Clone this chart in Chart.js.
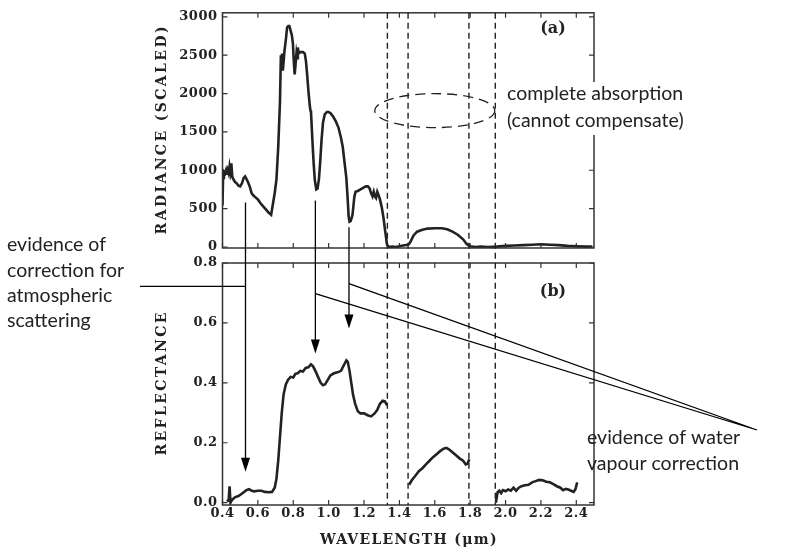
<!DOCTYPE html>
<html><head><meta charset="utf-8">
<script src="https://cdn.jsdelivr.net/npm/chart.js@4/dist/chart.umd.min.js"></script>
<style>
html,body{margin:0;padding:0;background:#fff;}
#wrap{position:relative;width:791px;height:551px;background:#fff;}
canvas{position:absolute;left:0;top:0;}
</style></head><body>
<div id="wrap"><canvas id="ca" width="791" height="551"></canvas><canvas id="cb" width="791" height="551"></canvas></div>
<script>
// ---------- data ----------
const wavelengthTicks = [0.4,0.6,0.8,1.0,1.2,1.4,1.6,1.8,2.0,2.2,2.4];
const radianceTicks = [0,500,1000,1500,2000,2500,3000];
const reflectanceTicks = [0,0.2,0.4,0.6,0.8];

const radianceWl = [0.400,0.403,0.408,0.415,0.420,0.425,0.430,0.435,0.440,0.445,0.450,0.455,0.462,0.470,0.480,0.490,0.500,0.510,0.520,0.528,0.535,0.545,0.555,0.565,0.575,0.590,0.600,0.615,0.630,0.645,0.660,0.675,0.685,0.695,0.705,0.715,0.725,0.730,0.733,0.737,0.741,0.745,0.750,0.758,0.765,0.772,0.778,0.785,0.792,0.798,0.803,0.808,0.813,0.818,0.822,0.826,0.830,0.838,0.845,0.855,0.865,0.872,0.878,0.885,0.893,0.897,0.900,0.902,0.908,0.915,0.922,0.930,0.937,0.945,0.952,0.960,0.968,0.978,0.990,1.000,1.012,1.025,1.040,1.055,1.070,1.080,1.090,1.100,1.107,1.113,1.118,1.125,1.135,1.145,1.152,1.165,1.180,1.195,1.210,1.222,1.232,1.240,1.248,1.255,1.262,1.268,1.275,1.282,1.290,1.300,1.310,1.320,1.330,1.340,1.360,1.380,1.400,1.420,1.440,1.455,1.465,1.480,1.500,1.530,1.560,1.600,1.640,1.670,1.700,1.730,1.760,1.780,1.800,1.830,1.860,1.900,1.950,2.000,2.050,2.100,2.150,2.200,2.250,2.300,2.350,2.400,2.450,2.490];
const radianceVal = [540,900,980,960,1000,940,1000,960,1050,980,1090,920,880,850,830,800,790,830,900,920,890,840,780,700,670,640,620,570,530,490,450,420,560,700,880,1300,1900,2500,2350,2520,2300,2400,2550,2700,2860,2880,2880,2820,2760,2650,2420,2250,2380,2520,2460,2600,2520,2540,2540,2540,2520,2420,2260,2050,1850,1780,1760,1680,1400,1100,870,750,760,880,1100,1400,1620,1730,1760,1760,1740,1700,1640,1560,1420,1300,1100,900,650,400,330,340,420,650,720,730,750,770,790,790,760,700,660,720,660,640,720,680,620,520,380,200,30,0,5,0,10,20,25,40,80,150,200,225,240,245,245,230,200,160,100,40,10,0,5,0,5,15,20,25,30,35,30,25,15,10,5,5];

const reflectanceWl = [0.425,0.435,0.440,0.445,0.455,0.470,0.490,0.505,0.520,0.535,0.550,0.565,0.580,0.600,0.620,0.640,0.660,0.680,0.695,0.705,0.715,0.725,0.735,0.745,0.758,0.770,0.785,0.800,0.812,0.825,0.840,0.855,0.870,0.885,0.900,0.912,0.925,0.940,0.955,0.968,0.980,0.995,1.010,1.030,1.050,1.070,1.085,1.100,1.108,1.118,1.128,1.138,1.150,1.165,1.180,1.200,1.220,1.240,1.260,1.275,1.290,1.305,1.318,1.330,
  1.390,
  1.455,1.470,1.490,1.510,1.530,1.550,1.570,1.590,1.610,1.630,1.650,1.665,1.680,1.700,1.720,1.740,1.760,1.775,1.785,1.795,
  1.870,
  1.945,1.955,1.965,1.975,1.985,2.000,2.015,2.030,2.045,2.060,2.075,2.090,2.110,2.130,2.150,2.170,2.190,2.210,2.230,2.250,2.270,2.290,2.310,2.325,2.340,2.355,2.370,2.385,2.395,2.405];
const reflectanceVal = [0.005,0.010,0.055,0.000,0.010,0.018,0.022,0.028,0.035,0.042,0.045,0.040,0.038,0.040,0.040,0.036,0.035,0.036,0.050,0.080,0.140,0.220,0.300,0.360,0.395,0.410,0.420,0.418,0.430,0.432,0.440,0.438,0.450,0.452,0.462,0.455,0.440,0.420,0.400,0.392,0.395,0.410,0.425,0.432,0.435,0.440,0.458,0.475,0.470,0.440,0.400,0.360,0.330,0.305,0.298,0.298,0.292,0.288,0.298,0.310,0.330,0.340,0.338,0.325,
  null,
  0.060,0.075,0.090,0.105,0.115,0.128,0.140,0.152,0.162,0.172,0.180,0.183,0.178,0.168,0.158,0.148,0.140,0.128,0.130,0.145,
  null,
  0.000,0.035,0.040,0.032,0.042,0.038,0.044,0.040,0.050,0.040,0.050,0.055,0.058,0.060,0.068,0.072,0.076,0.075,0.070,0.068,0.062,0.055,0.050,0.042,0.046,0.044,0.040,0.036,0.045,0.068];

const absorptionBandEdges = [1.332, 1.449, 1.793, 1.942];
// arrows: wavelength, start radiance (panel a), end reflectance (panel b)
const arrowWl = [0.53, 0.925, 1.115];
const arrowFromRadiance = [580, 605, 258];
const arrowToReflectance = [0.103, 0.498, 0.581];

// ---------- helpers ----------
const INK = '#222';
const tickFont = {family:'DejaVu Serif', weight:'bold', size:13};
const LEFT_W = 222.5;
function setTicks(list){ return s => { s.ticks = list.map(v => ({value:v})); }; }
function yScale(min, max, list, fmt){
  return {type:'linear', min, max, afterBuildTicks: setTicks(list), afterFit: s => { s.width = LEFT_W; },
    grid:{display:false, drawTicks:false}, border:{display:false},
    ticks:{font:tickFont, color:INK, padding:5, autoSkip:false, callback: fmt}};
}
function xScale(showLabels){
  return {type:'linear', min:0.4, max:2.5, afterBuildTicks: setTicks(wavelengthTicks),
    afterFit: s => { s.height = showLabels ? 46 : 0; },
    grid:{display:false, drawTicks:false}, border:{display:false},
    ticks:{display:showLabels, font:tickFont, color:INK, padding:0.5, autoSkip:false, maxRotation:0, callback: v => v.toFixed(1)}};
}
const spacingPlugin = { id:'spacing', beforeDraw(chart){ chart.ctx.letterSpacing = '0.5px'; } };
const framePlugin = {
  id:'frame',
  afterDatasetsDraw(chart){
    const {ctx, chartArea:a, scales:{x, y}} = chart;
    ctx.save();
    ctx.strokeStyle = '#333'; ctx.lineWidth = 1.5;
    ctx.strokeRect(a.left, a.top, a.right - a.left, a.bottom - a.top);
    ctx.lineWidth = 1.2; ctx.beginPath();
    for (const t of x.ticks){ const p = x.getPixelForValue(t.value); ctx.moveTo(p, a.bottom); ctx.lineTo(p, a.bottom - 5); ctx.moveTo(p, a.top); ctx.lineTo(p, a.top + 5); }
    for (const t of y.ticks){ const p = y.getPixelForValue(t.value); ctx.moveTo(a.left, p); ctx.lineTo(a.left + 5, p); ctx.moveTo(a.right, p); ctx.lineTo(a.right - 5, p); }
    ctx.stroke(); ctx.restore();
  }
};
function spacedText(ctx, text, x, y, font, spacing, rot, align){
  ctx.save();
  ctx.translate(x, y); if (rot) ctx.rotate(rot);
  ctx.font = font; ctx.letterSpacing = spacing + 'px';
  ctx.textAlign = align || 'center'; ctx.textBaseline = 'middle'; ctx.fillStyle = INK;
  ctx.fillText(text, align === 'left' ? 0 : spacing / 2, 0);
  ctx.restore();
}
function arrowHead(ctx, x, y){
  ctx.beginPath(); ctx.moveTo(x, y); ctx.lineTo(x - 4.5, y - 14); ctx.lineTo(x + 4.5, y - 14); ctx.closePath(); ctx.fill();
}

const chartA = new Chart(document.getElementById('ca'), {
  type:'line',
  data:{datasets:[{data: radianceWl.map((w,i) => ({x:w, y:radianceVal[i]})), borderColor:INK, borderWidth:2.6, pointRadius:0, tension:0}]},
  options:{responsive:false, animation:false, devicePixelRatio:1,
    layout:{padding:{top:10, right:197, bottom:303, left:0}},
    plugins:{legend:{display:false}, tooltip:{enabled:false}},
    scales:{x: xScale(false), y: yScale(-13, 3052, radianceTicks, v => String(v))}},
  plugins:[spacingPlugin, framePlugin, {
    id:'titlesA',
    afterDraw(chart){
      const {ctx, chartArea:a} = chart;
      spacedText(ctx, 'RADIANCE (SCALED)', 162, (a.top + a.bottom) / 2, 'bold 14px "DejaVu Serif"', 2.4, -Math.PI/2);
      spacedText(ctx, '(a)', 553, 29, 'bold 16px "DejaVu Serif"', 0);
    }
  }]
});

const chartB = new Chart(document.getElementById('cb'), {
  type:'line',
  data:{datasets:[{data: reflectanceWl.map((w,i) => ({x:w, y:reflectanceVal[i]})), borderColor:INK, borderWidth:2.6, pointRadius:0, tension:0, spanGaps:false}]},
  options:{responsive:false, animation:false, devicePixelRatio:1,
    layout:{padding:{top:263, right:197, bottom:0, left:0}},
    plugins:{legend:{display:false}, tooltip:{enabled:false}},
    scales:{x: xScale(true), y: yScale(-0.0077, 0.8, reflectanceTicks, v => v.toFixed(1))}},
  plugins:[spacingPlugin, framePlugin, {
    id:'annotations',
    afterDraw(chart){
      const {ctx, chartArea:b} = chart;
      const x = chart.scales.x, yb = chart.scales.y;
      const ya = chartA.scales.y, a = chartA.chartArea;
      spacedText(ctx, 'REFLECTANCE', 162, (b.top + b.bottom) / 2, 'bold 14px "DejaVu Serif"', 2.4, -Math.PI/2);
      spacedText(ctx, 'WAVELENGTH (\u03bcm)', (b.left + b.right) / 2, 540, 'bold 14px "DejaVu Serif"', 1.3);
      spacedText(ctx, '(b)', 553, 292, 'bold 16px "DejaVu Serif"', 0);

      ctx.save();
      // absorption band dashed lines spanning both panels
      ctx.strokeStyle = INK; ctx.lineWidth = 1.4; ctx.setLineDash([6, 4]);
      for (const w of absorptionBandEdges){
        const p = x.getPixelForValue(w);
        ctx.beginPath(); ctx.moveTo(p, a.top); ctx.lineTo(p, b.bottom); ctx.stroke();
      }
      // ellipse
      ctx.lineWidth = 1.3; ctx.setLineDash([10, 6]);
      ctx.beginPath(); ctx.ellipse(x.getPixelForValue(1.6), ya.getPixelForValue(1777), 60, 17, 0, 0, Math.PI*2); ctx.stroke();
      ctx.setLineDash([]);
      // arrows
      ctx.lineWidth = 1.3; ctx.fillStyle = '#000'; ctx.strokeStyle = '#000';
      const ax = arrowWl.map(w => x.getPixelForValue(w));
      for (let i = 0; i < arrowWl.length; i++){
        const y0 = ya.getPixelForValue(arrowFromRadiance[i]);
        const y1 = yb.getPixelForValue(arrowToReflectance[i]);
        ctx.beginPath(); ctx.moveTo(ax[i], y0); ctx.lineTo(ax[i], y1 - 10); ctx.stroke();
        arrowHead(ctx, ax[i], y1);
      }
      // connector for scattering label
      const hy = yb.getPixelForValue(0.722);
      ctx.beginPath(); ctx.moveTo(140, hy); ctx.lineTo(ax[0], hy); ctx.stroke();
      // connectors for water vapour label
      const tipX = 757, tipY = 430;
      ctx.beginPath();
      ctx.moveTo(ax[1], yb.getPixelForValue(0.698)); ctx.lineTo(tipX, tipY);
      ctx.moveTo(ax[2], yb.getPixelForValue(0.731)); ctx.lineTo(tipX, tipY);
      ctx.stroke();
      // white backing behind the absorption note (covers the frame edge)
      ctx.fillStyle = '#fff';
      ctx.fillRect(504, 82, 186, 53);
      ctx.restore();

      // annotation text
      const f = '19.5px Lato';
      ['evidence of','correction for','atmospheric','scattering'].forEach((t, i) => spacedText(ctx, t, 7, 245 + i*25.3, f, 0, 0, 'left'));
      ['complete absorption','(cannot compensate)'].forEach((t, i) => spacedText(ctx, t, 507, 94 + i*26.5, f, 0, 0, 'left'));
      ['evidence of water','vapour correction'].forEach((t, i) => spacedText(ctx, t, 587, 438 + i*25.3, f, 0, 0, 'left'));
    }
  }]
});
</script>
</body></html>
